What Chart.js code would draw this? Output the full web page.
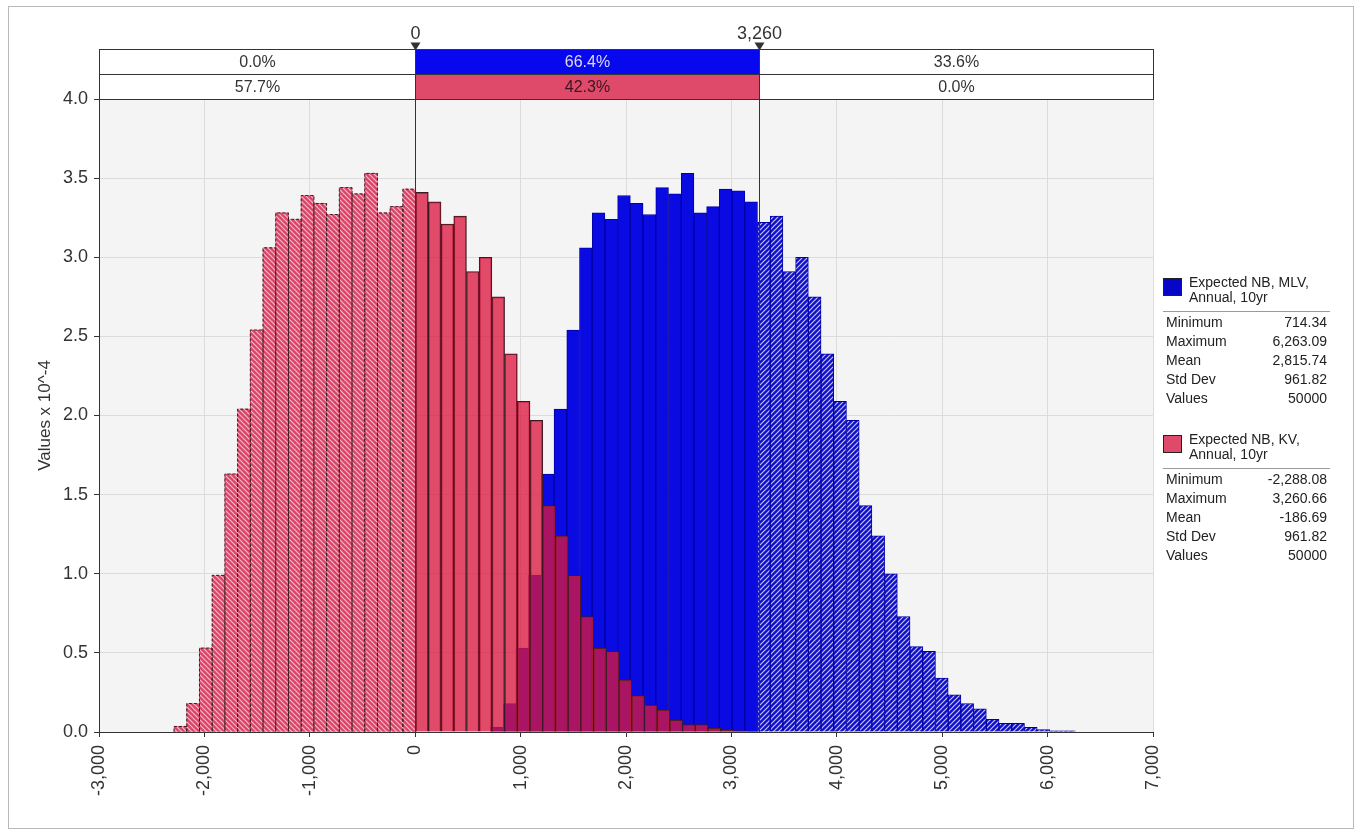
<!DOCTYPE html>
<html>
<head>
<meta charset="utf-8">
<title>Expected NB histogram</title>
<script src="https://cdn.jsdelivr.net/npm/chart.js@4"></script>
<style>
  html, body { margin: 0; padding: 0; background: #fff; }
  canvas { display: block; }
</style>
</head>
<body>
<canvas id="histChart" width="1356" height="835"></canvas>
<script>
// ---- data (bin heights in Values x 10^-4, 46 bins per series) ----
const mlvHeights = [0.03, 0.18, 0.53, 0.99, 1.63, 2.04, 2.54, 3.06, 3.28, 3.24, 3.39, 3.34, 3.27, 3.44, 3.40, 3.53,
  3.28, 3.32, 3.43, 3.42, 3.35, 3.22, 3.26, 2.91, 3.00, 2.75, 2.39, 2.09, 1.97, 1.43, 1.24, 1.00, 0.73, 0.54, 0.51,
  0.34, 0.235, 0.18, 0.146, 0.08, 0.054, 0.054, 0.03, 0.016, 0.007, 0.007];
const kvHeights = [0.035, 0.18, 0.53, 0.99, 1.63, 2.04, 2.54, 3.06, 3.28, 3.24, 3.39, 3.34, 3.27, 3.44, 3.40, 3.53,
  3.28, 3.32, 3.43, 3.41, 3.35, 3.21, 3.26, 2.91, 3.00, 2.75, 2.39, 2.09, 1.97, 1.43, 1.24, 0.99, 0.73, 0.53, 0.51,
  0.33, 0.23, 0.17, 0.14, 0.075, 0.047, 0.047, 0.024, 0.012, 0.007, 0.005];

const mlvRange = [714.34, 6263.09];
const kvRange = [-2288.08, 3260.66];

const seriesNames = [["Expected NB, MLV,", "Annual, 10yr"], ["Expected NB, KV,", "Annual, 10yr"]];
const statLabels = ["Minimum", "Maximum", "Mean", "Std Dev", "Values"];
const mlvStats = ["714.34", "6,263.09", "2,815.74", "961.82", "50000"];
const kvStats = ["-2,288.08", "3,260.66", "-186.69", "961.82", "50000"];

const markers = [0, 3260];
const markerLabels = ["0", "3,260"];
const mlvShares = ["0.0%", "66.4%", "33.6%"];
const kvShares = ["57.7%", "42.3%", "0.0%"];

const xAxis = [-3000, 7000, 1000];
const yAxis = [0, 4, 0.5];
const yTitle = "Values x 10^-4";

// ---- helpers ----
function binCenters(range, n) {
  const w = (range[1] - range[0]) / n;
  return Array.from({ length: n }, (_, i) => range[0] + w * (i + 0.5));
}

const canvas = document.getElementById("histChart");
const ctx = canvas.getContext("2d");

function hatch(base, stripe, dir) {
  const s = 5;
  const c = document.createElement("canvas");
  c.width = c.height = s;
  const g = c.getContext("2d");
  g.fillStyle = base;
  g.fillRect(0, 0, s, s);
  g.strokeStyle = stripe;
  g.lineWidth = 1.2;
  g.beginPath();
  if (dir > 0) {
    g.moveTo(-1, s + 1); g.lineTo(s + 1, -1);
    g.moveTo(-1, 1); g.lineTo(1, -1);
    g.moveTo(s - 1, s + 1); g.lineTo(s + 1, s - 1);
  } else {
    g.moveTo(-1, -1); g.lineTo(s + 1, s + 1);
    g.moveTo(s - 1, -1); g.lineTo(s + 1, 1);
    g.moveTo(-1, s - 1); g.lineTo(1, s + 1);
  }
  g.stroke();
  return ctx.createPattern(c, "repeat");
}

const blueHatch = hatch("#1010cc", "#c4c4f2", 1);
const redHatch = hatch("#dc4467", "#f4bccb", -1);

const mlvX = binCenters(mlvRange, mlvHeights.length);
const kvX = binCenters(kvRange, kvHeights.length);

const FONT = "'Liberation Sans', Arial, sans-serif";

// ---- plugins ----
const plotBg = {
  id: "plotBg",
  beforeDraw(chart) {
    const a = chart.chartArea;
    const c = chart.ctx;
    c.save();
    c.fillStyle = "#f4f4f4";
    c.fillRect(a.left, a.top, a.right - a.left, a.bottom - a.top);
    c.restore();
  }
};

// dashed outlines on the hatched KV bars
const dashedBars = {
  id: "dashedBars",
  afterDatasetsDraw(chart) {
    const meta = chart.getDatasetMeta(1);
    const c = chart.ctx;
    c.save();
    c.strokeStyle = "#3a1b22";
    c.lineWidth = 1;
    c.setLineDash([3, 2]);
    meta.data.forEach((el, i) => {
      if (kvX[i] >= markers[0]) return;
      const l = el.x - el.width / 2, r = el.x + el.width / 2;
      c.beginPath();
      c.moveTo(l, el.base);
      c.lineTo(l, el.y);
      c.lineTo(r, el.y);
      c.lineTo(r, el.base);
      c.stroke();
    });
    c.restore();
  }
};

const overlay = {
  id: "overlay",
  afterDraw(chart) {
    const c = chart.ctx;
    const a = chart.chartArea;
    const xs = chart.scales.x;
    const cuts = [a.left, xs.getPixelForValue(markers[0]), xs.getPixelForValue(markers[1]), a.right].map(v => Math.round(v) + 0.5);
    const rowH = 25;
    const rows = [
      { shares: mlvShares, fill: "#0808ee", text: "#dcdce8", top: Math.round(a.top) - 2 * rowH + 0.5 },
      { shares: kvShares, fill: "#e04a6a", text: "#3b1520", top: Math.round(a.top) - rowH + 0.5 }
    ];
    c.save();
    c.font = "16px " + FONT;
    c.textAlign = "center";
    c.textBaseline = "middle";
    rows.forEach(r => {
      for (let i = 0; i < 3; i++) {
        const x0 = cuts[i], x1 = cuts[i + 1];
        c.fillStyle = i === 1 ? r.fill : "#fff";
        c.fillRect(x0, r.top, x1 - x0, rowH);
        c.strokeStyle = "#333";
        c.lineWidth = 1;
        c.strokeRect(x0, r.top, x1 - x0, rowH);
        c.fillStyle = i === 1 ? r.text : "#333";
        c.fillText(r.shares[i], (x0 + x1) / 2, r.top + rowH / 2 + 1);
      }
    });

    // marker lines, triangles and labels
    const top = rows[0].top;
    c.strokeStyle = "#333";
    c.fillStyle = "#333";
    c.font = "18px " + FONT;
    c.textBaseline = "alphabetic";
    [cuts[1], cuts[2]].forEach((x, i) => {
      c.beginPath();
      c.moveTo(x, top);
      c.lineTo(x, a.bottom);
      c.stroke();
      c.beginPath();
      c.moveTo(x - 5, top - 7);
      c.lineTo(x + 5, top - 7);
      c.lineTo(x, top + 1);
      c.closePath();
      c.fill();
      c.fillText(markerLabels[i], x, top - 11);
    });

    // legend with statistics
    const entries = [
      { name: seriesNames[0], fill: "#0606c8", stats: mlvStats, top: 278 },
      { name: seriesNames[1], fill: "#e04a6a", stats: kvStats, top: 435 }
    ];
    const lx = 1163, rx = 1330;
    entries.forEach(e => {
      c.fillStyle = e.fill;
      c.fillRect(lx, e.top, 19, 18);
      c.strokeStyle = "#222";
      c.strokeRect(lx + 0.5, e.top + 0.5, 18, 17);
      c.fillStyle = "#222";
      c.font = "14px " + FONT;
      c.textAlign = "left";
      c.textBaseline = "middle";
      c.fillText(e.name[0], 1189, e.top + 5);
      c.fillText(e.name[1], 1189, e.top + 20);
      c.strokeStyle = "#9a9a9a";
      c.beginPath();
      c.moveTo(lx, e.top + 33.5);
      c.lineTo(rx, e.top + 33.5);
      c.stroke();
      statLabels.forEach((lab, k) => {
        const y = e.top + 45 + 19 * k;
        c.textAlign = "left";
        c.fillText(lab, 1166, y);
        c.textAlign = "right";
        c.fillText(e.stats[k], 1327, y);
      });
    });

    // page frame
    c.strokeStyle = "#b8b8b8";
    c.strokeRect(8.5, 6.5, 1345, 822);
    c.restore();
  }
};

// ---- chart ----
new Chart(ctx, {
  type: "bar",
  data: {
    datasets: [
      {
        label: seriesNames[0].join(" "),
        data: mlvX.map((x, i) => ({ x, y: mlvHeights[i] })),
        backgroundColor: c => (c.raw && c.raw.x > markers[1]) ? blueHatch : "#0a0ae2",
        borderColor: "#0000a6",
        borderWidth: 1,
        barThickness: 12.7,
        grouped: false,
        order: 2
      },
      {
        label: seriesNames[1].join(" "),
        data: kvX.map((x, i) => ({ x, y: kvHeights[i] })),
        backgroundColor: c => (c.raw && c.raw.x < markers[0]) ? redHatch : "rgba(218,23,62,0.77)",
        borderColor: "#3a1b22",
        borderWidth: c => (c.raw && c.raw.x < markers[0]) ? 0 : 1,
        barThickness: 12.7,
        grouped: false,
        order: 1
      }
    ]
  },
  options: {
    responsive: false,
    animation: false,
    events: [],
    layout: { padding: { left: 0, right: 203, top: 99, bottom: 0 } },
    plugins: { legend: { display: false }, tooltip: { enabled: false } },
    scales: {
      x: {
        type: "linear",
        min: xAxis[0],
        max: xAxis[1],
        offset: false,
        afterFit: s => { s.height = 103; },
        grid: { color: "#dcdcdc", tickColor: "#333", tickLength: 5, offset: false },
        border: { color: "#333" },
        ticks: {
          stepSize: xAxis[2],
          minRotation: 90,
          maxRotation: 90,
          padding: 8,
          color: "#333",
          font: { family: FONT, size: 18 },
          callback: v => v.toLocaleString("en-US")
        }
      },
      y: {
        min: yAxis[0],
        max: yAxis[1],
        afterFit: s => { s.width = 99; },
        grid: { color: "#dcdcdc", tickColor: "#333", tickLength: 5 },
        border: { color: "#333" },
        title: {
          display: true,
          text: yTitle,
          color: "#333",
          font: { family: FONT, size: 17 },
          padding: { top: 35, bottom: 0 }
        },
        ticks: {
          stepSize: yAxis[2],
          padding: 6,
          color: "#333",
          font: { family: FONT, size: 18 },
          callback: v => v.toFixed(1)
        }
      }
    }
  },
  plugins: [plotBg, dashedBars, overlay]
});
</script>
</body>
</html>
